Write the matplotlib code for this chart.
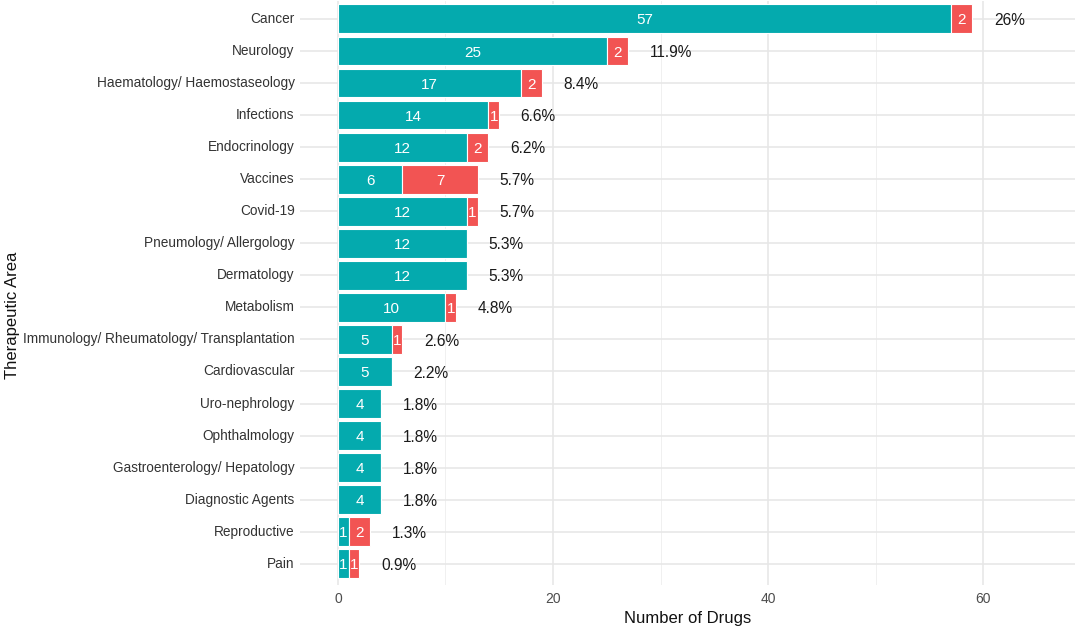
import matplotlib.pyplot as plt
import numpy as np

plt.rcParams['font.family'] = ['Liberation Sans', 'DejaVu Sans']

# data (top to bottom)
areas = ['Cancer', 'Neurology', 'Haematology/ Haemostaseology', 'Infections',
         'Endocrinology', 'Vaccines', 'Covid-19', 'Pneumology/ Allergology',
         'Dermatology', 'Metabolism', 'Immunology/ Rheumatology/ Transplantation',
         'Cardiovascular', 'Uro-nephrology', 'Ophthalmology',
         'Gastroenterology/ Hepatology', 'Diagnostic Agents', 'Reproductive', 'Pain']
teal_counts = [57, 25, 17, 14, 12, 6, 12, 12, 12, 10, 5, 5, 4, 4, 4, 4, 1, 1]
red_counts = [2, 2, 2, 1, 2, 7, 1, 0, 0, 1, 1, 0, 0, 0, 0, 0, 2, 1]
pct_labels = ['26%', '11.9%', '8.4%', '6.6%', '6.2%', '5.7%', '5.7%', '5.3%',
              '5.3%', '4.8%', '2.6%', '2.2%', '1.8%', '1.8%', '1.8%', '1.8%',
              '1.3%', '0.9%']

TEAL = '#04AAAE'
RED = '#F25453'

fig = plt.figure(figsize=(10.8, 6.3), dpi=100)
ax = fig.add_axes([0.278, 0.072, 0.717, 0.926])

y = np.arange(len(areas))[::-1]
teal = np.array(teal_counts)
red = np.array(red_counts)

ax.barh(y, teal, height=0.9, color=TEAL, edgecolor='white', linewidth=0.8, zorder=3)
ax.barh(y, red, left=teal, height=0.9, color=RED, edgecolor='white', linewidth=0.8, zorder=3)

for yi, t, r, p in zip(y, teal, red, pct_labels):
    if t > 0:
        ax.text(t / 2, yi - 0.05, str(t), ha='center', va='center', color='white',
                fontsize=11, zorder=4)
    if r > 0:
        ax.text(t + r / 2, yi - 0.05, str(r), ha='center', va='center', color='white',
                fontsize=11, zorder=4)
    ax.text(t + r + 2, yi - 0.05, p, ha='left', va='center', color='#1a1a1a',
            fontsize=11.2, zorder=4)

ax.set_yticks(y)
ax.set_yticklabels(areas, fontsize=9.8, color='#333333')
ax.set_xticks([0, 20, 40, 60])
ax.set_xticks([10, 30, 50], minor=True)
ax.tick_params(axis='x', labelsize=10, labelcolor='#4d4d4d', length=0, which='both', pad=5)
ax.tick_params(axis='y', length=0, pad=4)
for lbl in ax.get_yticklabels():
    lbl.set_va('center')
ax.set_xlim(-3.5, 68.5)
ax.set_ylim(-0.65, len(areas) - 0.45)

ax.grid(True, which='major', color='#E6E6E6', linewidth=1.1, zorder=0)
ax.grid(True, which='minor', axis='x', color='#F0F0F0', linewidth=0.7, zorder=0)
for s in ax.spines.values():
    s.set_visible(False)

ax.set_xlabel('Number of Drugs', fontsize=12, color='#111111', labelpad=4)
fig.text(0.012, 0.5, 'Therapeutic Area', rotation=90, ha='center', va='center',
         fontsize=12, color='#111111')

fig.savefig('out.png', dpi=100)
